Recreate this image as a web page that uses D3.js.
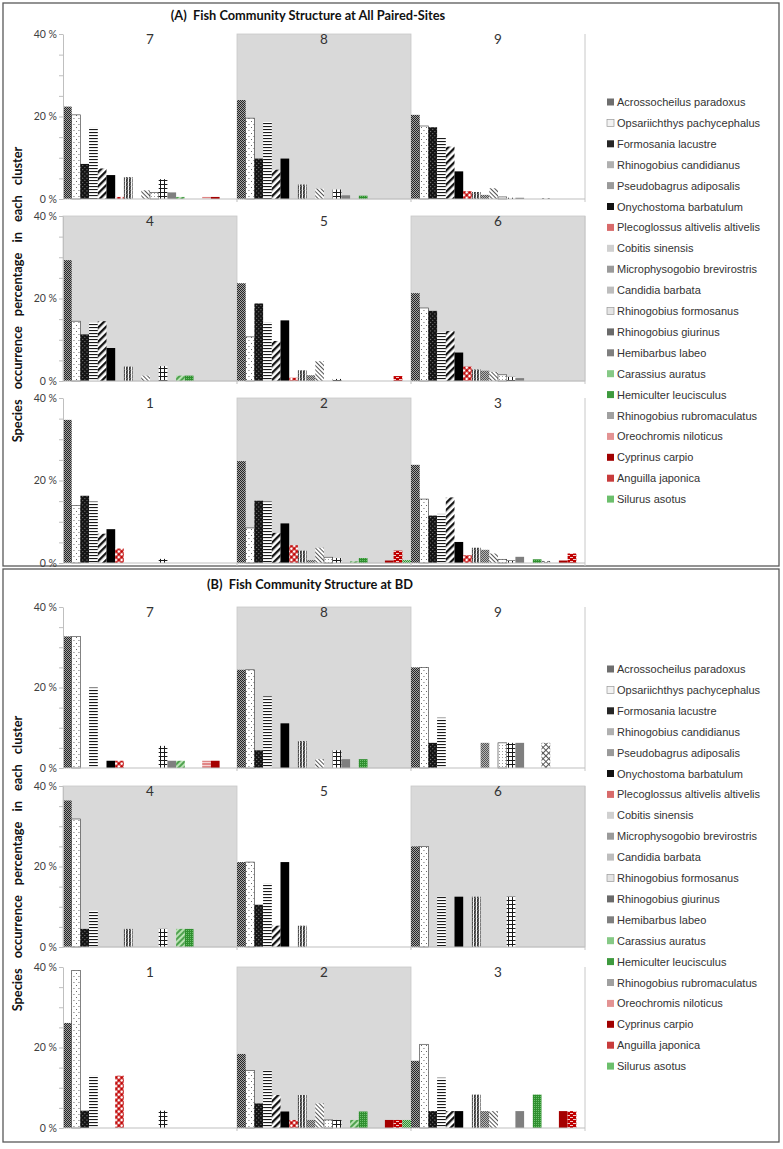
<!DOCTYPE html>
<html><head><meta charset="utf-8">
<script src="https://cdn.jsdelivr.net/npm/d3@7"></script>
<style>body{margin:0;background:#fff}</style>
</head><body>
<svg id="c" width="783" height="1149"></svg>
<script>
// ---------------- DATA ----------------
const species = ["Acrossocheilus paradoxus","Opsariichthys pachycephalus","Formosania lacustre",
 "Rhinogobius candidianus","Pseudobagrus adiposalis","Onychostoma barbatulum",
 "Plecoglossus altivelis altivelis","Cobitis sinensis","Microphysogobio brevirostris",
 "Candidia barbata","Rhinogobius formosanus","Rhinogobius giurinus","Hemibarbus labeo",
 "Carassius auratus","Hemiculter leucisculus","Rhinogobius rubromaculatus",
 "Oreochromis niloticus","Cyprinus carpio","Anguilla japonica","Silurus asotus"];
const clusterOrder = [7,8,9,4,5,6,1,2,3];
const shadedClusters = [8,4,6,2];
const yTickValues = [0,5,10,15,20,25,30,35,40];
const yTickLabels = {0:"0 %",20:"20 %",40:"40 %"};
const titleA = "(A)  Fish Community Structure at All Paired-Sites";
const titleB = "(B)  Fish Community Structure at BD";
const yAxisTitle = "Species occurrence percentage in each cluster";

// (A) all paired sites: % occurrence of each species, per cluster
const A7 = [22.4,20.4,8.5,17.3,7.4,5.8,0.5,5.3,0,2.1,1.6,4.8,1.6,0.5,0,0,0.5,0.5,0,0];
const A8 = [24.0,19.6,9.8,18.7,7.1,9.8,0,3.5,0,2.5,0,2.3,0.9,0,0.8,0,0,0,0,0];
const A9 = [20.4,17.7,17.4,15.0,12.7,6.7,1.9,1.7,1.0,2.6,0.5,0.3,0.3,0,0,0.2,0,0,0,0];
const A4 = [29.3,14.5,11.3,14.3,14.5,8.0,0,3.5,0,1.3,0,3.6,0,1.3,1.3,0,0,0,0,0];
const A5 = [23.7,10.7,18.8,14.3,9.7,14.7,0.8,2.6,1.4,4.8,0,0.5,0,0,0,0,0,0,1.2,0];
const A6 = [21.3,17.7,17.0,11.8,12.1,6.9,3.5,2.8,2.5,2.2,1.5,1.0,0.7,0,0,0,0,0,0,0];
const A1 = [34.7,13.9,16.3,14.9,7.1,8.2,3.5,0,0,0,0,1.0,0,0,0,0,0,0,0,0];
const A2 = [24.7,8.5,15.1,14.9,7.3,9.6,4.3,3.0,0.7,3.7,1.4,1.2,0,0.4,1.2,0,0,0.6,3.0,0.7];
const A3 = [23.8,15.5,11.5,11.9,15.9,5.1,1.9,3.7,3.2,2.3,0.9,0.6,1.5,0,0.9,0.5,0,0.6,2.3,0];
// (B) BD sites
const B7 = [32.7,32.7,0,20.0,0,1.8,1.8,0,0,0,0,5.5,1.8,1.8,0,0,1.8,1.8,0,0];
const B8 = [24.4,24.4,4.4,17.8,0,11.1,0,6.7,0,2.2,0,4.4,2.2,0,2.2,0,0,0,0,0];
const B9 = [25.0,25.0,6.25,12.5,0,0,0,0,6.25,0,6.25,6.25,6.25,0,0,6.25,0,0,0,0];
const B4 = [36.4,31.8,4.5,9.1,0,0,0,4.5,0,0,0,4.5,0,4.5,4.5,0,0,0,0,0];
const B5 = [21.1,21.1,10.5,15.8,5.3,21.1,0,5.3,0,0,0,0,0,0,0,0,0,0,0,0];
const B6 = [25.0,25.0,0,12.5,0,12.5,0,12.5,0,0,0,12.5,0,0,0,0,0,0,0,0];
const B1 = [26.1,39.1,4.3,13.0,0,0,13.0,0,0,0,0,4.3,0,0,0,0,0,0,0,0];
const B2 = [18.4,14.3,6.1,14.3,8.2,4.1,2.0,8.2,2.0,6.1,2.0,2.0,0,2.0,4.1,0,0,2.0,2.0,2.0];
const B3 = [16.7,20.8,4.2,12.5,4.2,4.2,0,8.3,4.2,4.2,0,0,4.2,0,8.3,0,0,4.2,4.2,0];

// ---------------- RENDER ----------------
const svg = d3.select("#c");
const defs = svg.append("defs");

function pattern(id, w, h, bg, shapes, rot){
  const p = defs.append("pattern").attr("id", id).attr("patternUnits","userSpaceOnUse")
    .attr("width", w).attr("height", h);
  if (rot) p.attr("patternTransform", `rotate(${rot})`);
  p.append("rect").attr("width", w).attr("height", h).attr("fill", bg);
  shapes.forEach(s => {
    if (s.d) p.append("path").attr("d", s.d).attr("fill","none").attr("stroke", s.c).attr("stroke-width", s.sw||0.8);
    else if (s.r) p.append("circle").attr("cx", s.cx).attr("cy", s.cy).attr("r", s.r).attr("fill", s.c);
    else p.append("rect").attr("x", s[0]).attr("y", s[1]).attr("width", s[2]).attr("height", s[3]).attr("fill", s[4]);
  });
}
pattern("p0",2,2,"#a3a3a3",[[0,0,1,1,"#262626"],[1,1,1,1,"#262626"]]);
pattern("p1",5,6,"#ffffff",[[1,1,0.9,0.9,"#444"],[3.5,4,0.9,0.9,"#444"]]);
pattern("p2",3,3,"#141414",[[1,1,0.8,0.8,"#c8c8c8"]],45);
pattern("p3",3,3,"#ffffff",[[0,0,3,1.1,"#1a1a1a"]]);
pattern("p4",5,5,"#ffffff",[[0,0,2.3,5,"#141414"]],45);
pattern("p5",4,4,"#000000",[]);
pattern("p6",4,4,"#c00000",[{cx:2,cy:2,r:1.45,c:"#ffffff"}],45);
pattern("p7",3,4,"#ffffff",[{d:"M1.6,0 L0.4,1 L1.6,2 L0.4,3 L1.6,4",c:"#111",sw:1.1}]);
pattern("p8",2,2,"#b5b5b5",[[0,0,1,1,"#555"],[1,1,1,1,"#555"]]);
pattern("p9",3,3,"#ffffff",[[0,0,1,3,"#555"]],-45);
pattern("p10",3,3,"#ffffff",[[1,1,0.9,0.9,"#888"]]);
pattern("p11",4,4,"#ffffff",[[0,0,4,1,"#1a1a1a"],[0,0,1,4,"#1a1a1a"]]);
pattern("p12",4,4,"#7f7f7f",[]);
pattern("p13",4,4,"#b9e2b3",[[0,0,2,4,"#4fa24f"]],45);
pattern("p14",2,2,"#2f8f2f",[[0,0,1,1,"#6cc06c"]]);
pattern("p15",4,4,"#ffffff",[[0,0,4,1,"#555"],[0,0,1,4,"#555"]],45);
pattern("p16",3,3,"#e08585",[[0,0,3,1,"#f6d3d3"]]);
pattern("p17",4,4,"#a50000",[]);
pattern("p18",6,4,"#c00000",[[0,1,3,0.8,"#ffffff"],[3,3,3,0.8,"#ffffff"]]);
pattern("p19",2,2,"#2e8b2e",[[0,0,1,1,"#a5d9a5"],[1,1,1,1,"#a5d9a5"]]);
const outlined = {1:true,10:true};
// legend swatch fills (the legend shows simplified, lighter swatches)
const legendFill = ["#6e6e6e","#f2f2f2","#262626","#b0b0b0","#9a9a9a","#111111","#d86a6a","#d0d0d0",
  "#9a9a9a","#bdbdbd","#e4e4e4","#6a6a6a","#7f7f7f","#86c986","#3e9a3e","#a0a0a0","#e39393","#a00000","#c83c3c","#6cbf6c"];

const panels = [
  {title:titleA, box:[3,3,776,563], titleX:308, titleY:20, tops:[34,216,398], h:165, legendY:102,
   data:{7:A7,8:A8,9:A9,4:A4,5:A5,6:A6,1:A1,2:A2,3:A3}},
  {title:titleB, box:[3,569,776,573], titleX:310, titleY:589, tops:[607,786,967], h:161, legendY:669,
   data:{7:B7,8:B8,9:B9,4:B4,5:B5,6:B6,1:B1,2:B2,3:B3}}
];
const X0 = 63, COLW = 174;

panels.forEach(P => {
  svg.append("rect").attr("x",P.box[0]).attr("y",P.box[1]).attr("width",P.box[2]).attr("height",P.box[3])
    .attr("fill","none").attr("stroke","#595959").attr("stroke-width",1.3);
  svg.append("text").attr("x",P.titleX).attr("y",P.titleY).attr("text-anchor","middle")
    .attr("font-family","Lato, 'Open Sans', sans-serif").attr("font-weight","bold").attr("font-size",12.8)
    .attr("fill","#111").attr("xml:space","preserve").text(P.title);

  P.tops.forEach((top, r) => {
    const y = d3.scaleLinear().domain([0,40]).range([top + P.h, top]);
    for (let c = 0; c < 3; c++) {
      const cl = clusterOrder[r*3 + c];
      const vals = P.data[cl];
      const x = d3.scaleBand().domain(species).range([X0 + c*COLW, X0 + (c+1)*COLW]).padding(0);
      const g = svg.append("g");
      if (shadedClusters.includes(cl)) {
        g.append("rect").attr("x", x.range()[0]).attr("y", y(40)).attr("width", COLW)
          .attr("height", y(0) - y(40)).attr("fill","#d9d9d9").attr("stroke","#c8c8c8").attr("stroke-width",0.8);
      }
      g.selectAll("rect.bar").data(species.map((s,i)=>({s,i,v:vals[i]})).filter(d=>d.v>0))
        .join("rect").attr("class","bar")
        .attr("x", d => x(d.s)).attr("width", x.bandwidth())
        .attr("y", d => y(d.v)).attr("height", d => y(0) - y(d.v))
        .attr("fill", d => `url(#p${d.i})`)
        .attr("stroke", d => outlined[d.i] ? "#333" : "none").attr("stroke-width", 0.6);
      g.append("text").attr("x", x.range()[0] + COLW/2).attr("y", top + 10)
        .attr("text-anchor","middle").attr("font-family","Lato, 'Open Sans', sans-serif")
        .attr("font-size",13.5).attr("fill","#333").text(cl);
    }
    svg.append("line").attr("x1",X0+3*COLW).attr("x2",X0+3*COLW).attr("y1",y(40)).attr("y2",y(0)+3)
      .attr("stroke","#c8c8c8").attr("stroke-width",1);
    svg.append("line").attr("x1",X0).attr("x2",X0+3*COLW).attr("y1",y(0)).attr("y2",y(0))
      .attr("stroke","#bfbfbf").attr("stroke-width",1);
    [1,2].forEach(k => svg.append("line").attr("x1",X0+k*COLW).attr("x2",X0+k*COLW)
      .attr("y1",y(0)).attr("y2",y(0)+3).attr("stroke","#bfbfbf"));
    const ax = svg.append("g").attr("transform",`translate(${X0},0)`)
      .call(d3.axisLeft(y).tickValues(yTickValues).tickSize(4).tickSizeOuter(0)
        .tickFormat(d => yTickLabels[d] || ""));
    ax.select(".domain").attr("stroke","#bfbfbf");
    ax.selectAll(".tick line").attr("stroke","#bfbfbf");
    ax.selectAll(".tick text").attr("font-family","Lato, 'Open Sans', sans-serif").attr("font-size",10.5)
      .attr("fill","#404040").attr("x",-6);
  });

  const cy = (P.tops[0] + P.tops[2] + P.h) / 2 - 4;
  svg.append("text").attr("transform",`translate(22,${cy}) rotate(-90)`).attr("text-anchor","middle")
    .attr("font-family","Lato, 'Open Sans', sans-serif").attr("font-weight","bold").attr("font-size",12.8)
    .attr("word-spacing","7px").attr("fill","#111").text(yAxisTitle);

  const lg = svg.append("g");
  species.forEach((s,i) => {
    const yy = P.legendY + i*20.9;
    lg.append("rect").attr("x",607).attr("y",yy-3.5).attr("width",7).attr("height",7)
      .attr("fill",legendFill[i]).attr("stroke", outlined[i] ? "#999" : "none").attr("stroke-width",0.7);
    lg.append("text").attr("x",617).attr("y",yy+4).attr("font-family","'Liberation Sans', Arial, sans-serif")
      .attr("font-size",11).attr("fill","#333").text(s);
  });
});
</script>
</body></html>
